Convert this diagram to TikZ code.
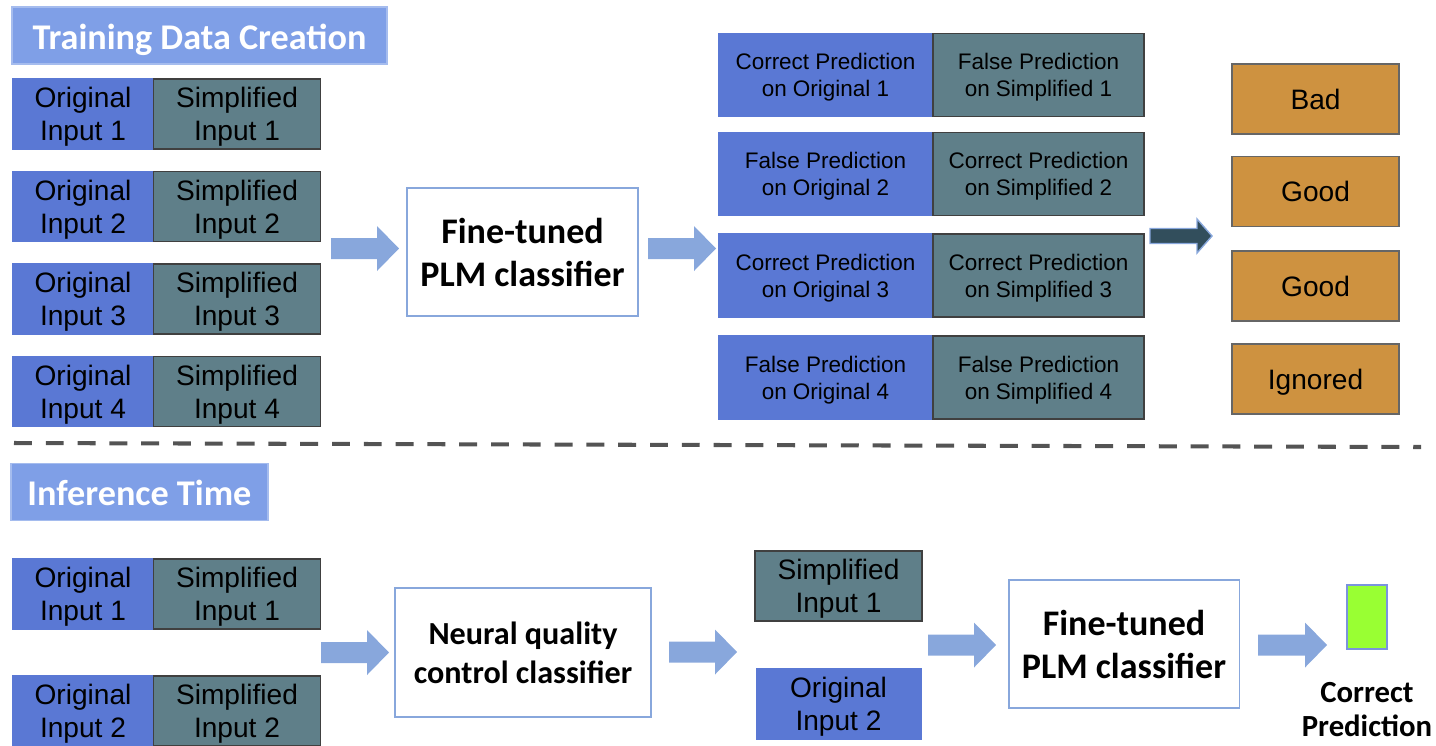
\documentclass[tikz,border=0pt]{standalone}
\usepackage{fontspec}
\setmainfont{Liberation Sans}
\newfontfamily\calfont{Carlito}
\usetikzlibrary{arrows}

\definecolor{origblue}{RGB}{90,120,212}
\definecolor{simpgray}{RGB}{95,127,137}
\definecolor{titleblue}{RGB}{127,159,231}
\definecolor{arrowblue}{RGB}{136,167,220}
\definecolor{darkslate}{RGB}{50,78,92}
\definecolor{boxorange}{RGB}{206,146,64}
\definecolor{predgreen}{RGB}{153,255,51}

\tikzset{
  orig/.style={fill=origblue, draw=origblue, line width=0.6pt, inner sep=0pt,
    minimum width=2.8cm, minimum height=1.4cm, align=center, text depth=0pt,
    font=\fontsize{16}{19}\selectfont},
  simp/.style={orig, fill=simpgray, draw=black!75, line width=1.1pt, minimum width=3.34cm},
  predo/.style={orig, minimum width=4.3cm, minimum height=1.66cm,
    font=\fontsize{12.8}{15.5}\selectfont},
  preds/.style={simp, minimum width=4.22cm, minimum height=1.66cm,
    font=\fontsize{12.8}{15.5}\selectfont},
  verdict/.style={fill=boxorange, draw=black!60, line width=1.1pt, inner sep=0pt,
    minimum width=3.34cm, minimum height=1.4cm, text depth=0pt,
    font=\fontsize{16}{19}\selectfont},
  model/.style={draw=arrowblue, line width=1.1pt, fill=white, inner sep=0pt, align=center,
    minimum width=4.62cm, minimum height=2.56cm, text depth=-2pt,
    font=\calfont\bfseries\fontsize{20.5}{24.5}\selectfont},
  phase/.style={fill=titleblue, draw=titleblue!70, line width=1.1pt, text=white, inner sep=0pt,
    minimum height=1.14cm, text height=15.5pt, text depth=0pt,
    font=\calfont\bfseries\fontsize{20.6}{24}\selectfont},
  blockarrow/.style={fill=arrowblue, draw=none},
  sepline/.style={draw=black!67, line width=2.3pt, dash pattern=on 10.2pt off 7.9pt}
}

\begin{document}
\begin{tikzpicture}[x=0.02cm, y=-0.02cm]
\useasboundingbox (0,0) rectangle (1436,745);

% training data creation
\node[phase, minimum width=7.5cm] (tt) at (199.5,35.5) {Training Data Creation};

\node[orig] (o1) at (83,114) {Original\\Input 1};
\node[simp] (s1) at (237,114) {Simplified\\Input 1};
\node[orig] (o2) at (83,206.5) {Original\\Input 2};
\node[simp] (s2) at (237,206.5) {Simplified\\Input 2};
\node[orig] (o3) at (83,299) {Original\\Input 3};
\node[simp] (s3) at (237,299) {Simplified\\Input 3};
\node[orig] (o4) at (83,391.5) {Original\\Input 4};
\node[simp] (s4) at (237,391.5) {Simplified\\Input 4};

\node[model] (plm1) at (522.5,252) {Fine-tuned\\PLM classifier};

\node[predo] (po1) at (825.5,75) {Correct Prediction\\on Original 1};
\node[preds] (ps1) at (1038.5,75) {False Prediction\\on Simplified 1};
\node[predo] (po2) at (825.5,174) {False Prediction\\on Original 2};
\node[preds] (ps2) at (1038.5,174) {Correct Prediction\\on Simplified 2};
\node[predo] (po3) at (825.5,275.5) {Correct Prediction\\on Original 3};
\node[preds] (ps3) at (1038.5,275.5) {Correct Prediction\\on Simplified 3};
\node[predo] (po4) at (825.5,377.5) {False Prediction\\on Original 4};
\node[preds] (ps4) at (1038.5,377.5) {False Prediction\\on Simplified 4};

\node[verdict] (v1) at (1315.5,99) {Bad};
\node[verdict] (v2) at (1315.5,191.5) {Good};
\node[verdict] (v3) at (1315.5,286) {Good};
\node[verdict] (v4) at (1315.5,379) {Ignored};

\path[shape=coordinate]
(14,443) coordinate(d1) (1421,447) coordinate(d2);
\draw[sepline] (d1) -- (d2);

% inference time
\node[phase, minimum width=5.14cm] (it) at (139.5,492) {Inference Time};

\node[orig] (io1) at (83,594) {Original\\Input 1};
\node[simp] (is1) at (237,594) {Simplified\\Input 1};
\node[orig] (io2) at (83,711) {Original\\Input 2};
\node[simp] (is2) at (237,711) {Simplified\\Input 2};

\node[model, minimum width=5.12cm, minimum height=2.58cm,
  font=\calfont\bfseries\fontsize{18.3}{22}\selectfont] (nqc) at (523,652.5) {Neural quality\\control classifier};

\node[simp] (ks1) at (838.5,586) {Simplified\\Input 1};
\node[orig, minimum width=3.3cm] (ko2) at (838.5,704) {Original\\Input 2};

\node[model] (plm2) at (1124,644) {Fine-tuned\\PLM classifier};

\node[fill=predgreen, draw=origblue!80, line width=1.1pt, minimum width=0.8cm,
  minimum height=1.28cm, inner sep=0pt] (res) at (1367,617) {};
\node[align=center, inner sep=0pt, font=\calfont\bfseries\fontsize{17.5}{19.5}\selectfont]
  (rtxt) at (1367,709.5) {Correct\\Prediction};

% block arrows
\path[shape=coordinate]
(331,248.5) coordinate(a1) (648,248.5) coordinate(a2)
(1150,236) coordinate(a3) (321,652.5) coordinate(a4)
(669,652) coordinate(a5) (928,645) coordinate(a6)
(1258,645) coordinate(a7);
\filldraw[blockarrow] (a1) ++(0,-10.5) -- ++(46,0) -- ++(0,-12) -- ++(22,22.5) -- ++(-22,22.5) -- ++(0,-12) -- ++(-46,0) -- cycle;
\filldraw[blockarrow] (a2) ++(0,-10.5) -- ++(46,0) -- ++(0,-12) -- ++(22,22.5) -- ++(-22,22.5) -- ++(0,-12) -- ++(-46,0) -- cycle;
\filldraw[fill=darkslate, draw=arrowblue, line width=0.8pt] (a3) ++(0,-7.5) -- ++(47,0) -- ++(0,-9.5) -- ++(15,17) -- ++(-15,17) -- ++(0,-9.5) -- ++(-47,0) -- cycle;
\filldraw[blockarrow] (a4) ++(0,-10.5) -- ++(46,0) -- ++(0,-12) -- ++(22,22.5) -- ++(-22,22.5) -- ++(0,-12) -- ++(-46,0) -- cycle;
\filldraw[blockarrow] (a5) ++(0,-10.5) -- ++(46,0) -- ++(0,-12) -- ++(22,22.5) -- ++(-22,22.5) -- ++(0,-12) -- ++(-46,0) -- cycle;
\filldraw[blockarrow] (a6) ++(0,-10.5) -- ++(46,0) -- ++(0,-12) -- ++(22,22.5) -- ++(-22,22.5) -- ++(0,-12) -- ++(-46,0) -- cycle;
\filldraw[blockarrow] (a7) ++(0,-10.5) -- ++(47,0) -- ++(0,-12) -- ++(22,22.5) -- ++(-22,22.5) -- ++(0,-12) -- ++(-47,0) -- cycle;

\end{tikzpicture}
\end{document}
